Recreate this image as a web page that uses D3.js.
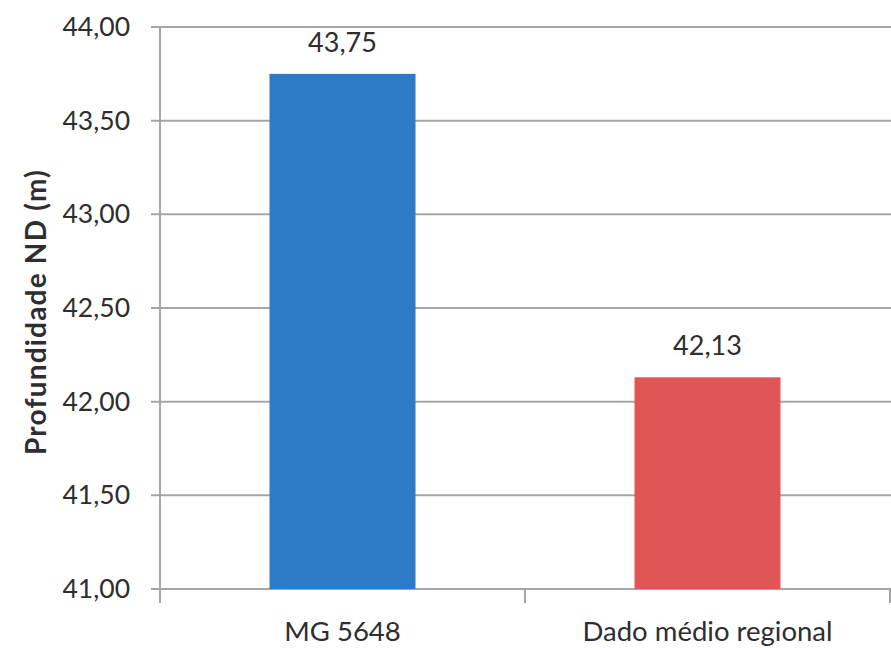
<!DOCTYPE html>
<html><head><meta charset="utf-8">
<script src="https://cdn.jsdelivr.net/npm/d3@7"></script>
<style>body{margin:0;background:#fff}svg{display:block}text{font-family:Lato,"Open Sans",sans-serif;fill:#2e2e2e}</style>
</head><body><svg id="c" width="891" height="648"></svg>
<script>
const categories = ["MG 5648", "Dado médio regional"];
const values = [43.75, 42.13];
const colors = ["#2B7BC6", "#E05656"];
const yTicks = [41.0, 41.5, 42.0, 42.5, 43.0, 43.5, 44.0];
const yTitle = "Profundidade ND (m)";

const svg = d3.select("#c");
const m = {left:160, right:890, top:27, bottom:589};
const x = d3.scaleBand().domain(categories).range([m.left, m.right]).paddingInner(0.6).paddingOuter(0.3);
const xb = d3.scaleBand().domain(categories).range([m.left, m.right]).padding(0);
const y = d3.scaleLinear().domain([41, 44]).range([m.bottom, m.top]);
const fmt = v => d3.format(".2f")(v).replace(".", ",");

// gridlines
svg.append("g").selectAll("line").data(yTicks).join("line")
  .attr("x1", m.left - 9).attr("x2", m.right + 1)
  .attr("y1", d => y(d)).attr("y2", d => y(d))
  .attr("stroke", "#a6a6a6").attr("stroke-width", 2);

// y axis
const ya = svg.append("g").attr("transform", `translate(${m.left},0)`)
  .call(d3.axisLeft(y).tickValues(yTicks).tickFormat(fmt).tickSize(0).tickPadding(30));
ya.select(".domain").remove();
ya.selectAll("text").style("font-size", "26.5px").attr("fill", "#2e2e2e").attr("font-family", "Lato");
svg.append("line").attr("x1", m.left).attr("x2", m.left).attr("y1", m.top).attr("y2", m.bottom + 14)
  .attr("stroke", "#a6a6a6").attr("stroke-width", 2);

// x axis ticks
const xTickPos = [m.left, ...categories.map(c => xb(c) + xb.bandwidth())];
svg.append("g").selectAll("line").data(xTickPos).join("line")
  .attr("x1", d => d).attr("x2", d => d).attr("y1", m.bottom).attr("y2", m.bottom + 14)
  .attr("stroke", "#a6a6a6").attr("stroke-width", 2);

const xa = svg.append("g").attr("transform", `translate(0,${m.bottom})`)
  .call(d3.axisBottom(x).tickSize(0).tickPadding(32));
xa.select(".domain").remove();
xa.selectAll("text").style("font-size", "27.5px").attr("fill", "#2e2e2e").attr("font-family", "Lato");

// bars
svg.append("g").selectAll("rect").data(values).join("rect")
  .attr("x", (d, i) => x(categories[i])).attr("width", x.bandwidth())
  .attr("y", d => y(d)).attr("height", d => y(41) - y(d))
  .attr("fill", (d, i) => colors[i]);

// value labels
svg.append("g").selectAll("text").data(values).join("text")
  .attr("x", (d, i) => x(categories[i]) + x.bandwidth() / 2)
  .attr("y", d => y(d) - 22)
  .attr("text-anchor", "middle").style("font-size", "27px").text(d => fmt(d));

// y title
svg.append("text").attr("transform", `translate(46,312) rotate(-90)`)
  .attr("text-anchor", "middle").style("font-size", "28px").style("font-weight", "bold")
  .style("letter-spacing", "1.2px").text(yTitle);
</script></body></html>
